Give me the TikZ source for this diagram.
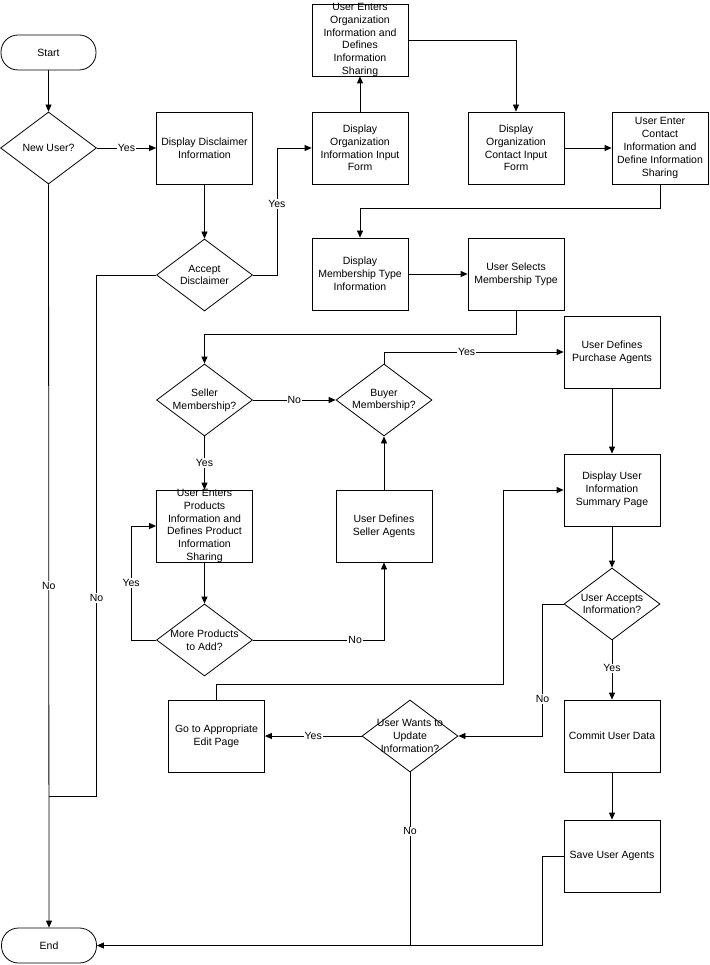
\documentclass[tikz,border=0pt]{standalone}
\usepackage{fontspec}
\setmainfont{Liberation Sans}
\usetikzlibrary{shapes.geometric}
\usetikzlibrary{arrows.meta}

\begin{document}
\begin{tikzpicture}[x=1pt,y=-1pt,line width=0.8pt,
  font=\fontsize{10.5}{12.8}\selectfont,
  every label/.style={align=center,inner sep=0pt},
  terminal/.style={draw,rectangle,rounded corners=17pt,minimum width=95pt,minimum height=35pt,inner sep=0pt},
  procbox/.style={draw,rectangle,minimum width=96pt,minimum height=72pt,inner sep=0pt},
  decision/.style={draw,diamond,minimum width=96pt,minimum height=72pt,inner sep=0pt},
  flow/.style={-{Triangle[length=7pt,width=6pt]}},
  answer/.style={fill=white,inner sep=1pt}]
  \useasboundingbox (0,0) rectangle (709,965);

  \node[terminal] (start) at (48.5,52.5) {Start};
  \node[decision,label={center:New User?}] (newuser) at (48.5,148) {};
  \node[procbox,label={center:Display Disclaimer\\Information}] (discl) at (204.5,148) {};
  \node[decision,label={center:Accept\\Disclaimer}] (accept) at (204.5,275) {};
  \node[procbox,label={center:Display\\Organization\\Information Input\\Form}] (orgform) at (360,148) {};
  \node[procbox,label={center:User Enters\\Organization\\Information and\\Defines\\Information\\Sharing}] (orgentry) at (360,40) {};
  \node[procbox,label={center:Display\\Organization\\Contact Input\\Form}] (contform) at (516,148) {};
  \node[procbox,label={center:User Enter\\Contact\\Information and\\Define Information\\Sharing}] (contentry) at (660,148) {};
  \node[procbox,label={center:Display\\Membership Type\\Information}] (membinfo) at (360,274) {};
  \node[procbox,label={center:User Selects\\Membership Type}] (membsel) at (516,274) {};
  \node[decision,label={center:Seller\\Membership?}] (seller) at (204.5,400) {};
  \node[decision,label={center:Buyer\\Membership?}] (buyer) at (384,400) {};
  \node[procbox,label={center:User Defines\\Purchase Agents}] (purchase) at (612,352) {};
  \node[procbox,label={center:User Enters\\Products\\Information and\\Defines Product\\Information\\Sharing}] (products) at (204.5,526) {};
  \node[decision,label={center:More Products\\to Add?}] (moreprod) at (204.5,640) {};
  \node[procbox,label={center:User Defines\\Seller Agents}] (selleragents) at (384,526) {};
  \node[procbox,label={center:Display User\\Information\\Summary Page}] (summary) at (612,490) {};
  \node[decision,label={center:User Accepts\\Information?}] (accepts) at (612,604) {};
  \node[procbox,label={center:Commit User Data}] (commit) at (612,736) {};
  \node[procbox,label={center:Save User Agents}] (save) at (612,856) {};
  \node[decision,label={center:User Wants to\\Update\\Information?}] (update) at (410,736) {};
  \node[procbox,label={center:Go to Appropriate\\Edit Page}] (editpage) at (216.5,736) {};
  \node[terminal] (end) at (49,945.5) {End};
  \coordinate (acceptno) at (96.5,796);

  \draw[flow] (start) -- (newuser);
  \draw[flow] (newuser) -- node[answer]{Yes} (discl);
  \draw[flow] (newuser) -- node[answer,pos=0.54]{No} (end);
  \draw[flow] (discl) -- (accept);
  \draw[flow] (accept.east) -- ++(24,0) |- node[answer,pos=0.28]{Yes} (orgform.west);
  \draw (accept.west) -| node[answer,pos=0.81]{No} (acceptno) -- (acceptno -| newuser.south);
  \draw[flow] (orgform) -- (orgentry);
  \draw[flow] (orgentry.east) -| (contform.north);
  \draw[flow] (contform) -- (contentry);
  \draw[flow] (contentry.south) -- ++(0,24) -| (membinfo.north);
  \draw[flow] (membinfo) -- (membsel);
  \draw[flow] (membsel.south) -- ++(0,24) -| (seller.north);
  \draw[flow] (seller) -- node[answer]{No} (buyer);
  \draw[flow] (seller) -- node[answer]{Yes} (products);
  \draw[flow] (buyer.north) |- node[answer,pos=0.73]{Yes} (purchase.west);
  \draw[flow] (products) -- (moreprod);
  \draw[flow] (moreprod.west) -- ++(-25,0) |- node[answer,pos=0.25]{Yes} (products.west);
  \draw[flow] (moreprod.east) -| node[answer,pos=0.39]{No} (selleragents.south);
  \draw[flow] (selleragents) -- (buyer);
  \draw[flow] (purchase) -- (summary);
  \draw[flow] (summary) -- (accepts);
  \draw[flow] (accepts) -- node[answer,pos=0.47]{Yes} (commit);
  \draw[flow] (accepts.west) -- ++(-21,0) |- node[answer,pos=0.36]{No} (update.east);
  \draw[flow] (update) -- node[answer]{Yes} (editpage);
  \draw[flow] (editpage.north) -- ++(0,-15) -| ([xshift=-60pt]summary.west) -- (summary.west);
  \draw (update.south) -- node[answer,pos=0.34]{No} (update.south |- end.east);
  \draw[flow] (commit) -- (save);
  \draw[flow] (save.west) -- ++(-21,0) |- (end.east);
\end{tikzpicture}
\end{document}
